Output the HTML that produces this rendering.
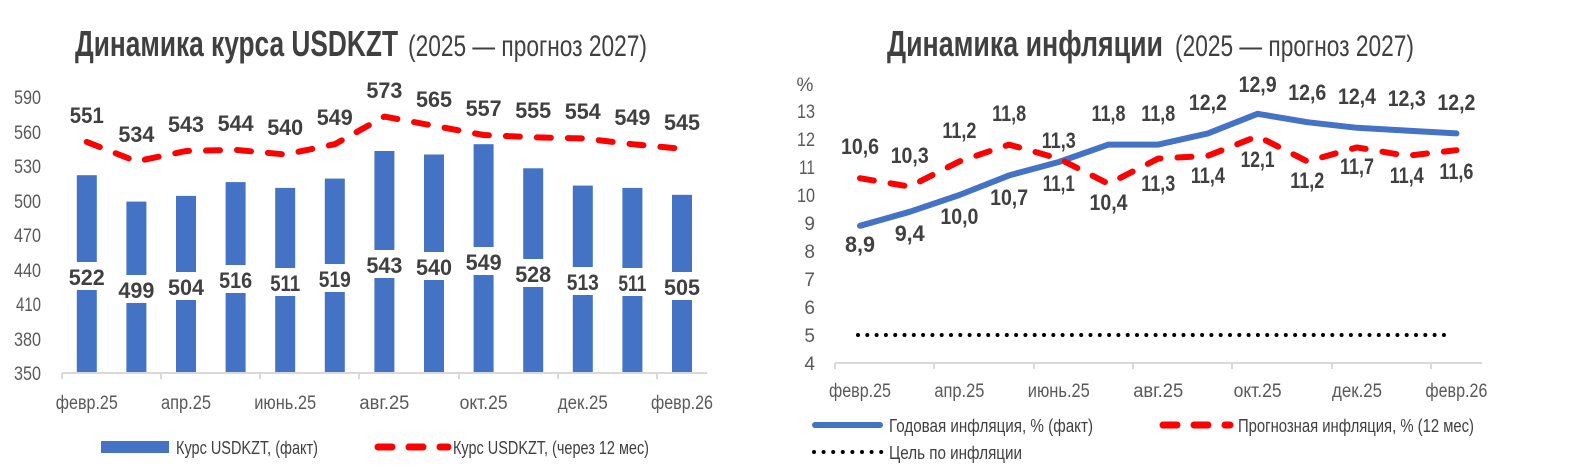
<!DOCTYPE html>
<html><head><meta charset="utf-8"><style>
html,body{margin:0;padding:0;background:#fff;}
svg{display:block;font-family:"Liberation Sans Narrow","Liberation Sans",sans-serif;}
.t{fill:#595959;font-size:19px;}
.v{fill:#404040;font-size:22px;font-weight:bold;}
.lg{fill:#404040;font-size:18px;}
</style></head><body>
<svg width="1570" height="468" viewBox="0 0 1570 468" xmlns="http://www.w3.org/2000/svg">
<!-- Titles -->
<text x="75" y="56" font-size="36" font-weight="bold" fill="#404040" textLength="323" lengthAdjust="spacingAndGlyphs">Динамика курса USDKZT</text>
<text x="408" y="56" font-size="30" fill="#404040" textLength="239" lengthAdjust="spacingAndGlyphs">(2025 — прогноз 2027)</text>
<text x="887" y="56" font-size="36" font-weight="bold" fill="#404040" textLength="276" lengthAdjust="spacingAndGlyphs">Динамика инфляции</text>
<text x="1175" y="56" font-size="30" fill="#404040" textLength="239" lengthAdjust="spacingAndGlyphs">(2025 — прогноз 2027)</text>

<!-- LEFT CHART -->
<g class="t" text-anchor="end">
<text x="41" y="104" textLength="27" lengthAdjust="spacingAndGlyphs">590</text><text x="41" y="139" textLength="27" lengthAdjust="spacingAndGlyphs">560</text><text x="41" y="173" textLength="27" lengthAdjust="spacingAndGlyphs">530</text>
<text x="41" y="208" textLength="27" lengthAdjust="spacingAndGlyphs">500</text><text x="41" y="242" textLength="27" lengthAdjust="spacingAndGlyphs">470</text><text x="41" y="277" textLength="27" lengthAdjust="spacingAndGlyphs">440</text>
<text x="41" y="311" textLength="25" lengthAdjust="spacingAndGlyphs">410</text><text x="41" y="346" textLength="27" lengthAdjust="spacingAndGlyphs">380</text><text x="41" y="380" textLength="27" lengthAdjust="spacingAndGlyphs">350</text>
</g>
<g fill="#4472C4">
<rect x="76.8" y="175.2" width="20" height="197.8"/>
<rect x="126.4" y="201.6" width="20" height="171.4"/>
<rect x="176" y="195.9" width="20" height="177.1"/>
<rect x="225.6" y="182.1" width="20" height="190.9"/>
<rect x="275.2" y="187.9" width="20" height="185.1"/>
<rect x="324.8" y="178.6" width="20" height="194.4"/>
<rect x="374.4" y="151" width="20" height="222"/>
<rect x="424" y="154.5" width="20" height="218.5"/>
<rect x="473.6" y="144.2" width="20" height="228.8"/>
<rect x="523.2" y="168.3" width="20" height="204.7"/>
<rect x="572.8" y="185.6" width="20" height="187.4"/>
<rect x="622.4" y="187.9" width="20" height="185.1"/>
<rect x="672" y="194.8" width="20" height="178.2"/>
</g>
<g fill="#fff">
<rect x="74" y="262" width="26" height="28"/><rect x="124" y="275" width="26" height="28"/>
<rect x="173" y="272" width="26" height="28"/><rect x="223" y="265" width="26" height="28"/>
<rect x="272" y="268" width="26" height="28"/><rect x="322" y="264" width="26" height="28"/>
<rect x="371" y="250" width="26" height="28"/><rect x="421" y="252" width="26" height="28"/>
<rect x="471" y="247" width="26" height="28"/><rect x="520" y="259" width="26" height="28"/>
<rect x="570" y="267" width="26" height="28"/><rect x="619" y="268" width="26" height="28"/>
<rect x="669" y="272" width="26" height="28"/>
</g>
<g class="v" text-anchor="middle" lengthAdjust="spacingAndGlyphs">
<text x="86.8" y="285" textLength="36" lengthAdjust="spacingAndGlyphs">522</text><text x="136.4" y="298" textLength="36" lengthAdjust="spacingAndGlyphs">499</text><text x="186" y="295" textLength="36" lengthAdjust="spacingAndGlyphs">504</text>
<text x="235.6" y="288" textLength="33" lengthAdjust="spacingAndGlyphs">516</text><text x="285.2" y="291" textLength="30" lengthAdjust="spacingAndGlyphs">511</text><text x="334.8" y="287" textLength="32" lengthAdjust="spacingAndGlyphs">519</text>
<text x="384.4" y="273" textLength="36" lengthAdjust="spacingAndGlyphs">543</text><text x="434" y="275" textLength="36" lengthAdjust="spacingAndGlyphs">540</text><text x="483.6" y="270" textLength="36" lengthAdjust="spacingAndGlyphs">549</text>
<text x="533.2" y="282" textLength="36" lengthAdjust="spacingAndGlyphs">528</text><text x="582.8" y="290" textLength="32" lengthAdjust="spacingAndGlyphs">513</text><text x="632.4" y="291" textLength="28" lengthAdjust="spacingAndGlyphs">511</text>
<text x="682" y="295" textLength="36" lengthAdjust="spacingAndGlyphs">505</text>
</g>
<polyline fill="none" stroke="#FF0000" stroke-width="6" stroke-linecap="round" stroke-linejoin="round" stroke-dasharray="14 17"
 points="86.8,141.9 136.4,161.4 186,151 235.6,149.9 285.2,154.5 334.8,144.2 384.4,116.6 434,125.8 483.6,135 533.2,137.3 582.8,138.4 632.4,144.2 682,148.8"/>
<g class="v" text-anchor="middle">
<text x="86.8" y="123" textLength="34" lengthAdjust="spacingAndGlyphs">551</text><text x="136.4" y="142" textLength="36" lengthAdjust="spacingAndGlyphs">534</text><text x="186" y="132" textLength="36" lengthAdjust="spacingAndGlyphs">543</text>
<text x="235.6" y="131" textLength="36" lengthAdjust="spacingAndGlyphs">544</text><text x="285.2" y="135" textLength="36" lengthAdjust="spacingAndGlyphs">540</text><text x="334.8" y="125" textLength="36" lengthAdjust="spacingAndGlyphs">549</text>
<text x="384.4" y="98" textLength="36" lengthAdjust="spacingAndGlyphs">573</text><text x="434" y="107" textLength="36" lengthAdjust="spacingAndGlyphs">565</text><text x="483.6" y="116" textLength="36" lengthAdjust="spacingAndGlyphs">557</text>
<text x="533.2" y="118" textLength="36" lengthAdjust="spacingAndGlyphs">555</text><text x="582.8" y="119" textLength="36" lengthAdjust="spacingAndGlyphs">554</text><text x="632.4" y="125" textLength="36" lengthAdjust="spacingAndGlyphs">549</text>
<text x="682" y="130" textLength="36" lengthAdjust="spacingAndGlyphs">545</text>
</g>
<line x1="62" y1="373" x2="707" y2="373" stroke="#D9D9D9" stroke-width="2"/>
<g stroke="#D9D9D9" stroke-width="2">
<line x1="62" y1="373" x2="62" y2="379"/><line x1="161" y1="373" x2="161" y2="379"/>
<line x1="260" y1="373" x2="260" y2="379"/><line x1="359" y1="373" x2="359" y2="379"/>
<line x1="459" y1="373" x2="459" y2="379"/><line x1="558" y1="373" x2="558" y2="379"/>
<line x1="657" y1="373" x2="657" y2="379"/>
</g>
<g class="t" text-anchor="middle">
<text x="86.8" y="409" textLength="62" lengthAdjust="spacingAndGlyphs">февр.25</text><text x="186" y="409" textLength="50" lengthAdjust="spacingAndGlyphs">апр.25</text><text x="285.2" y="409" textLength="62" lengthAdjust="spacingAndGlyphs">июнь.25</text>
<text x="384.4" y="409" textLength="50" lengthAdjust="spacingAndGlyphs">авг.25</text><text x="483.6" y="409" textLength="48" lengthAdjust="spacingAndGlyphs">окт.25</text><text x="582.8" y="409" textLength="50" lengthAdjust="spacingAndGlyphs">дек.25</text>
<text x="682" y="409" textLength="62" lengthAdjust="spacingAndGlyphs">февр.26</text>
</g>
<rect x="101" y="441" width="68" height="12" fill="#4472C4"/>
<text class="lg" x="176" y="454" textLength="142" lengthAdjust="spacingAndGlyphs">Курс USDKZT, (факт)</text>
<line x1="378" y1="447" x2="448" y2="447" stroke="#FF0000" stroke-width="7" stroke-linecap="round" stroke-dasharray="14 17"/>
<text class="lg" x="453" y="454" textLength="196" lengthAdjust="spacingAndGlyphs">Курс USDKZT, (через 12 мес)</text>

<!-- RIGHT CHART -->
<text class="t" x="805" y="91" text-anchor="middle">%</text>
<g class="t" text-anchor="end">
<text x="815" y="118" textLength="18" lengthAdjust="spacingAndGlyphs">13</text><text x="815" y="146" textLength="18" lengthAdjust="spacingAndGlyphs">12</text><text x="815" y="174" textLength="16" lengthAdjust="spacingAndGlyphs">11</text>
<text x="815" y="202" textLength="18" lengthAdjust="spacingAndGlyphs">10</text><text x="815" y="230">9</text><text x="815" y="258">8</text>
<text x="815" y="286">7</text><text x="815" y="314">6</text><text x="815" y="342">5</text>
<text x="815" y="370">4</text>
</g>
<line x1="858" y1="335" x2="1452" y2="335" stroke="#000" stroke-width="4" stroke-linecap="round" stroke-dasharray="0 9.3"/>
<polyline fill="none" stroke="#4472C4" stroke-width="6" stroke-linecap="round" stroke-linejoin="round"
 points="860,225.8 909.7,211.8 959.4,195 1009.1,175.4 1058.8,162 1108.5,144.6 1158.2,144.6 1207.9,133.4 1257.6,113.8 1307.3,122.2 1357,127.8 1406.7,130.6 1456.4,133.4"/>
<polyline fill="none" stroke="#FF0000" stroke-width="6" stroke-linecap="round" stroke-linejoin="round" stroke-dasharray="14 17"
 points="860,178.2 909.7,186.6 959.4,161.4 1009.1,144.6 1058.8,158.6 1108.5,183.8 1158.2,158.6 1207.9,155.8 1257.6,136.2 1307.3,161.4 1357,147.4 1406.7,155.8 1456.4,150.2"/>
<g class="v" text-anchor="middle">
<!-- blue -->
<text x="860" y="252" textLength="30" lengthAdjust="spacingAndGlyphs">8,9</text><text x="909.7" y="241" textLength="30" lengthAdjust="spacingAndGlyphs">9,4</text><text x="959.4" y="224" textLength="38" lengthAdjust="spacingAndGlyphs">10,0</text>
<text x="1009.1" y="205" textLength="38" lengthAdjust="spacingAndGlyphs">10,7</text><text x="1058.8" y="191" textLength="32" lengthAdjust="spacingAndGlyphs">11,1</text><text x="1108.5" y="121" textLength="34" lengthAdjust="spacingAndGlyphs">11,8</text>
<text x="1158.2" y="121" textLength="34" lengthAdjust="spacingAndGlyphs">11,8</text><text x="1207.9" y="110" textLength="38" lengthAdjust="spacingAndGlyphs">12,2</text><text x="1257.6" y="92" textLength="38" lengthAdjust="spacingAndGlyphs">12,9</text>
<text x="1307.3" y="100" textLength="38" lengthAdjust="spacingAndGlyphs">12,6</text><text x="1357" y="104" textLength="38" lengthAdjust="spacingAndGlyphs">12,4</text><text x="1406.7" y="106" textLength="38" lengthAdjust="spacingAndGlyphs">12,3</text>
<text x="1456.4" y="110" textLength="38" lengthAdjust="spacingAndGlyphs">12,2</text>
<!-- red -->
<text x="860" y="154" textLength="38" lengthAdjust="spacingAndGlyphs">10,6</text><text x="909.7" y="163" textLength="38" lengthAdjust="spacingAndGlyphs">10,3</text><text x="959.4" y="138" textLength="34" lengthAdjust="spacingAndGlyphs">11,2</text>
<text x="1009.1" y="121" textLength="34" lengthAdjust="spacingAndGlyphs">11,8</text><text x="1058.8" y="148" textLength="34" lengthAdjust="spacingAndGlyphs">11,3</text><text x="1108.5" y="210" textLength="38" lengthAdjust="spacingAndGlyphs">10,4</text>
<text x="1158.2" y="191" textLength="34" lengthAdjust="spacingAndGlyphs">11,3</text><text x="1207.9" y="183" textLength="34" lengthAdjust="spacingAndGlyphs">11,4</text><text x="1257.6" y="167" textLength="34" lengthAdjust="spacingAndGlyphs">12,1</text>
<text x="1307.3" y="188" textLength="34" lengthAdjust="spacingAndGlyphs">11,2</text><text x="1357" y="174" textLength="34" lengthAdjust="spacingAndGlyphs">11,7</text><text x="1406.7" y="183" textLength="34" lengthAdjust="spacingAndGlyphs">11,4</text>
<text x="1456.4" y="179" textLength="34" lengthAdjust="spacingAndGlyphs">11,6</text>
</g>
<line x1="835" y1="363" x2="1482" y2="363" stroke="#D9D9D9" stroke-width="2"/>
<g stroke="#D9D9D9" stroke-width="2">
<line x1="835" y1="363" x2="835" y2="369"/><line x1="934" y1="363" x2="934" y2="369"/>
<line x1="1034" y1="363" x2="1034" y2="369"/><line x1="1133" y1="363" x2="1133" y2="369"/>
<line x1="1232" y1="363" x2="1232" y2="369"/><line x1="1332" y1="363" x2="1332" y2="369"/>
<line x1="1431" y1="363" x2="1431" y2="369"/>
</g>
<g class="t" text-anchor="middle">
<text x="860" y="397" textLength="62" lengthAdjust="spacingAndGlyphs">февр.25</text><text x="959.4" y="397" textLength="50" lengthAdjust="spacingAndGlyphs">апр.25</text><text x="1058.8" y="397" textLength="62" lengthAdjust="spacingAndGlyphs">июнь.25</text>
<text x="1158.2" y="397" textLength="50" lengthAdjust="spacingAndGlyphs">авг.25</text><text x="1257.6" y="397" textLength="48" lengthAdjust="spacingAndGlyphs">окт.25</text><text x="1357" y="397" textLength="50" lengthAdjust="spacingAndGlyphs">дек.25</text>
<text x="1456.4" y="397" textLength="62" lengthAdjust="spacingAndGlyphs">февр.26</text>
</g>
<line x1="815" y1="425" x2="880" y2="425" stroke="#4472C4" stroke-width="6" stroke-linecap="round"/>
<text class="lg" x="889" y="432" textLength="204" lengthAdjust="spacingAndGlyphs">Годовая инфляция, % (факт)</text>
<line x1="1163" y1="425" x2="1230" y2="425" stroke="#FF0000" stroke-width="7" stroke-linecap="round" stroke-dasharray="14 17"/>
<text class="lg" x="1238" y="432" textLength="236" lengthAdjust="spacingAndGlyphs">Прогнозная инфляция, % (12 мес)</text>
<line x1="814" y1="452" x2="882" y2="452" stroke="#000" stroke-width="4" stroke-linecap="round" stroke-dasharray="0 9.6"/>
<text class="lg" x="889" y="459" textLength="133" lengthAdjust="spacingAndGlyphs">Цель по инфляции</text>
</svg>
</body></html>
